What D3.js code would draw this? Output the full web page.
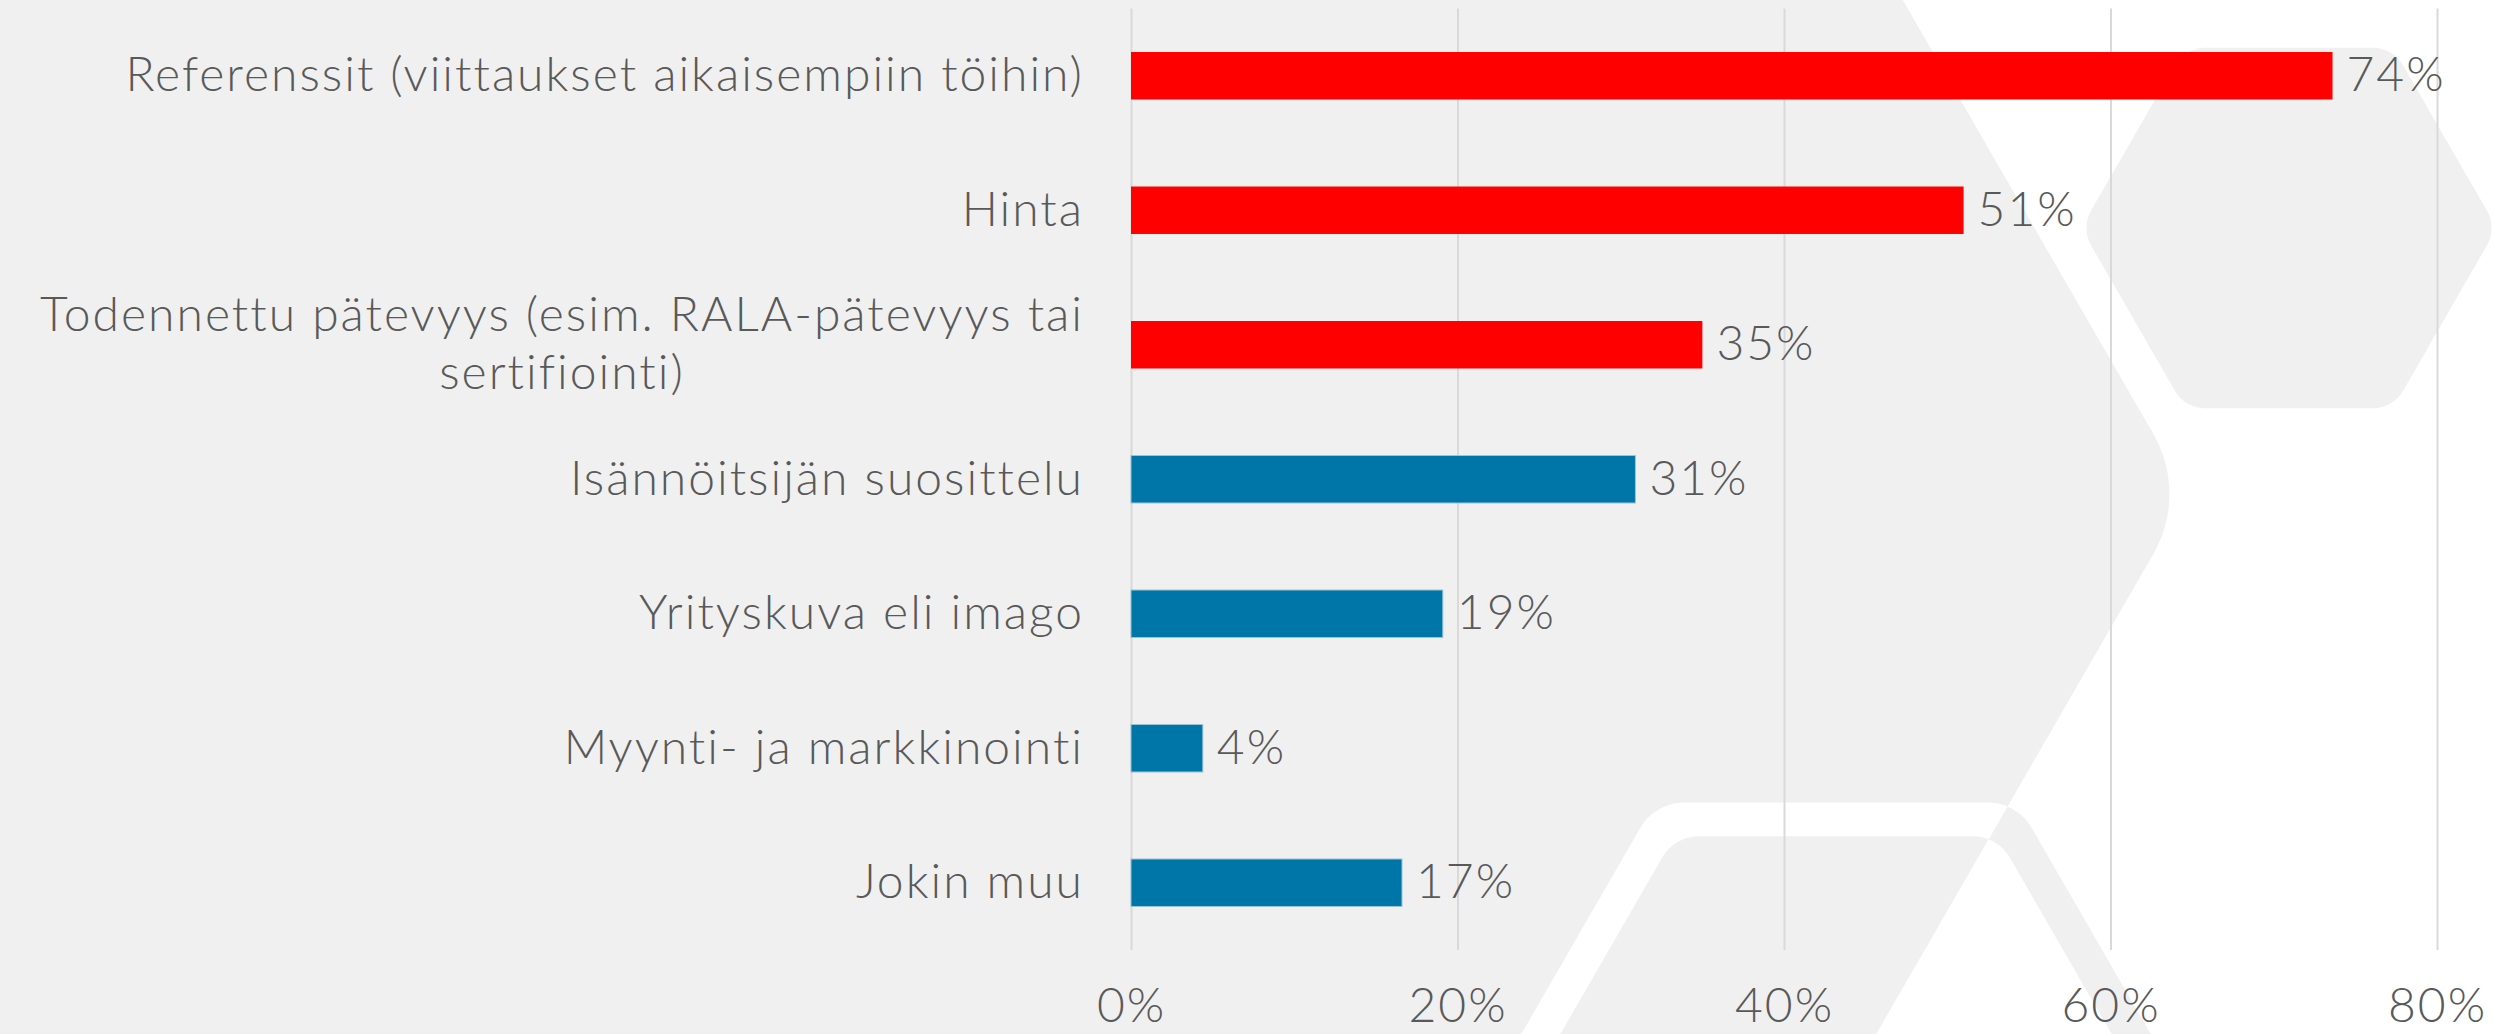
<!DOCTYPE html>
<html>
<head>
<meta charset="utf-8">
<script src="https://cdn.jsdelivr.net/npm/d3@7"></script>
<style>
  html, body { margin: 0; padding: 0; background: #fff; }
  svg { display: block; }
  text { font-family: Lato, "Open Sans", sans-serif; font-weight: 300; fill: #595959; letter-spacing: 2px; }
</style>
</head>
<body>
<svg id="chart" width="2498" height="1034"></svg>
<script>
/* ---------- data ---------- */
const categories = [
  "Referenssit (viittaukset aikaisempiin töihin)",
  "Hinta",
  "Todennettu pätevyys (esim. RALA-pätevyys tai sertifiointi)",
  "Isännöitsijän suosittelu",
  "Yrityskuva eli imago",
  "Myynti- ja markkinointi",
  "Jokin muu"
];
const shares = [0.736, 0.51, 0.35, 0.309, 0.191, 0.044, 0.166];
const highlighted = [true, true, true, false, false, false, false];
const xTicks = [0, 0.2, 0.4, 0.6, 0.8];

/* ---------- layout ---------- */
const W = 2498, H = 1034;
const plot = { left: 1131, right: 2437, top: 8.5, bottom: 950 };
const FONT = 48;
const RED = "#FF0000", BLUE = "#0076A8", GREY_BG = "#F0F0F0";

const svg = d3.select("#chart");

/* background hexagons, filled even-odd so overlaps flip colour */
const hexes = [
  { cx: -312, cy: 494, r: 2500, round: 120 },
  { cx: 1836, cy: 1116, r: 362, round: 50 },
  { cx: 1836, cy: 1116, r: 323, round: 42 },
  { cx: 2289, cy: 228, r: 208, round: 35 }
];

function hexPath(p, h) {
  const pts = d3.range(6).map((i) => [
    h.cx + h.r * Math.cos((i * Math.PI) / 3),
    h.cy + h.r * Math.sin((i * Math.PI) / 3)
  ]);
  p.moveTo((pts[5][0] + pts[0][0]) / 2, (pts[5][1] + pts[0][1]) / 2);
  pts.forEach((pt, i) => {
    const nx = pts[(i + 1) % 6];
    p.arcTo(pt[0], pt[1], nx[0], nx[1], h.round);
  });
  p.closePath();
}

svg.append("rect").attr("width", W).attr("height", H).attr("fill", "#fff");
const bgPath = d3.path();
hexes.forEach((h) => hexPath(bgPath, h));
svg.append("path")
  .attr("d", bgPath.toString())
  .attr("fill", GREY_BG)
  .attr("fill-rule", "evenodd");

/* ---------- scales ---------- */
const x = d3.scaleLinear().domain([0, 0.8]).range([plot.left, plot.right]);
const y = d3.scaleBand()
  .domain(categories)
  .range([plot.top, plot.bottom])
  .paddingInner(0.647)
  .paddingOuter(0.3235);

/* --- vertical grid + percent ticks --- */
const xAxis = svg.append("g")
  .attr("transform", `translate(0,${plot.bottom})`)
  .call(
    d3.axisBottom(x)
      .tickValues(xTicks)
      .tickFormat(d3.format(".0%"))
      .tickSizeInner(-(plot.bottom - plot.top))
      .tickSizeOuter(0)
      .tickPadding(38)
  )
  .attr("font-size", FONT);
xAxis.select(".domain").remove();
xAxis.selectAll(".tick line").attr("stroke", "#D9D9D9").attr("stroke-width", 2);

/* --- category labels --- */
const yAxis = svg.append("g")
  .attr("transform", `translate(${plot.left},0)`)
  .call(d3.axisLeft(y).tickSize(0).tickPadding(47))
  .attr("font-size", FONT);
yAxis.select(".domain").remove();
yAxis.selectAll(".tick text").each(function () {
  wrapLabel(d3.select(this), 1110, 58);
});

/* --- bars --- */
const rows = categories.map((c, i) => ({ cat: c, v: shares[i], hi: highlighted[i] }));

svg.append("g")
  .selectAll("rect")
  .data(rows)
  .join("rect")
  .attr("x", x(0))
  .attr("y", (d) => y(d.cat))
  .attr("width", (d) => x(d.v) - x(0))
  .attr("height", y.bandwidth())
  .attr("fill", (d) => (d.hi ? RED : BLUE))
  .attr("stroke", (d) => (d.hi ? "none" : "#9CC3D6"))
  .attr("stroke-width", 1);

/* --- value labels --- */
svg.append("g")
  .selectAll("text")
  .data(rows)
  .join("text")
  .attr("x", (d) => x(d.v) + 14)
  .attr("y", (d) => y(d.cat) + y.bandwidth() / 2)
  .attr("dy", "0.32em")
  .attr("font-size", FONT)
  .text((d) => d3.format(".0%")(d.v));

/* ---------- helpers ---------- */
// break a label into lines, lines centred on each other, block right-aligned
function wrapLabel(text, maxWidth, lineHeight) {
  const words = text.text().split(/\s+/);
  const x0 = +text.attr("x");
  text.text(null);
  const probe = text.append("tspan");
  const lines = [];
  let line = [];
  words.forEach((w) => {
    line.push(w);
    probe.text(line.join(" "));
    if (probe.node().getComputedTextLength() > maxWidth && line.length > 1) {
      line.pop();
      lines.push(line.join(" "));
      line = [w];
    }
  });
  lines.push(line.join(" "));
  const widths = lines.map((l) => {
    probe.text(l);
    return probe.node().getComputedTextLength();
  });
  probe.remove();
  if (lines.length === 1) {
    text.text(lines[0]);
    return;
  }
  const wMax = d3.max(widths);
  const startDy = 0.32 * FONT - ((lines.length - 1) * lineHeight) / 2;
  text.attr("dy", null).attr("text-anchor", "middle");
  lines.forEach((l, i) => {
    text.append("tspan")
      .attr("x", x0 - wMax / 2)
      .attr("dy", i === 0 ? startDy : lineHeight)
      .text(l);
  });
}
</script>
</body>
</html>
